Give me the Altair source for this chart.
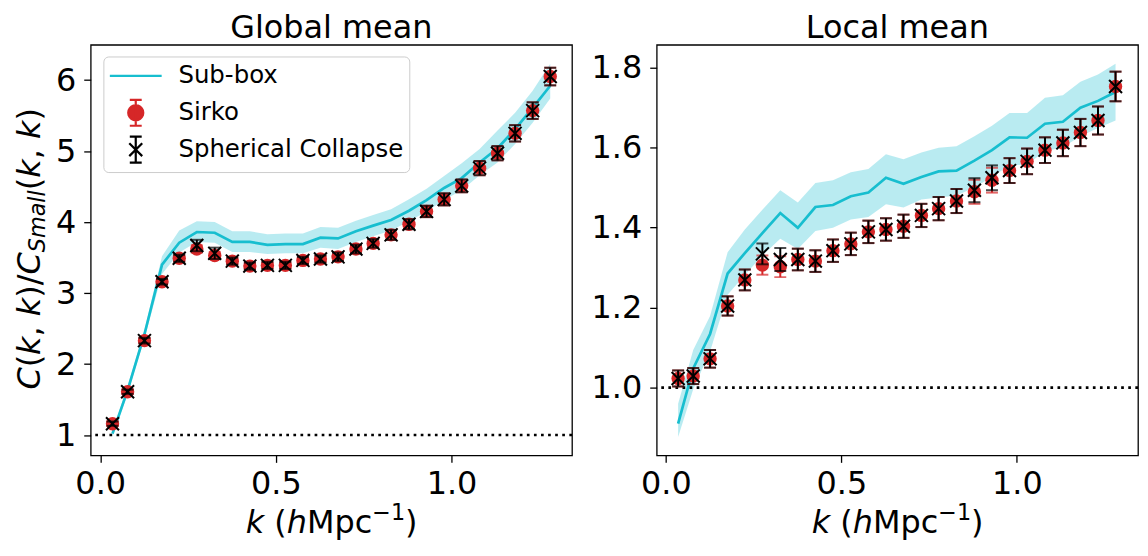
import math
import altair as alt
import pandas as pd

# ---------------- data ----------------
K = [0.035, 0.078, 0.126, 0.176, 0.225, 0.275, 0.326, 0.376, 0.426, 0.476, 0.527, 0.577, 0.627,
     0.677, 0.728, 0.777, 0.828, 0.879, 0.929, 0.979, 1.029, 1.080, 1.131, 1.181, 1.231, 1.281]

# Global mean panel
G_SIRKO = [1.16, 1.61, 2.33, 3.16, 3.49, 3.62, 3.53, 3.45, 3.38, 3.39, 3.39, 3.46, 3.48,
           3.51, 3.62, 3.70, 3.82, 3.97, 4.15, 4.32, 4.51, 4.76, 4.97, 5.25, 5.57, 6.05]
G_SIRKO_ERR = [0.03, 0.03, 0.04, 0.04, 0.05, 0.05, 0.05, 0.05, 0.05, 0.05, 0.05, 0.05, 0.05,
               0.06, 0.06, 0.06, 0.07, 0.07, 0.08, 0.085, 0.09, 0.10, 0.10, 0.115, 0.117, 0.124]
G_SC = [1.16, 1.61, 2.33, 3.16, 3.49, 3.67, 3.56, 3.45, 3.38, 3.39, 3.39, 3.46, 3.48,
        3.51, 3.62, 3.70, 3.82, 3.97, 4.15, 4.32, 4.51, 4.76, 4.97, 5.25, 5.57, 6.05]
G_SC_ERR = [0.03, 0.03, 0.04, 0.04, 0.05, 0.08, 0.08, 0.05, 0.05, 0.05, 0.05, 0.05, 0.05,
            0.06, 0.06, 0.06, 0.07, 0.07, 0.08, 0.085, 0.09, 0.10, 0.10, 0.115, 0.117, 0.124]
G_SUB = [1.02, 1.63, 2.42, 3.40, 3.71, 3.86, 3.85, 3.72, 3.72, 3.68, 3.69, 3.69, 3.78,
         3.77, 3.87, 3.95, 4.03, 4.16, 4.31, 4.48, 4.62, 4.84, 5.04, 5.31, 5.61, 5.92]
G_SUB_LO = [0.976, 1.58, 2.36, 3.27, 3.57, 3.72, 3.71, 3.58, 3.58, 3.55, 3.56, 3.56, 3.64,
            3.62, 3.72, 3.80, 3.88, 4.01, 4.15, 4.31, 4.45, 4.66, 4.84, 5.10, 5.40, 5.74]
G_SUB_HI = [1.06, 1.69, 2.48, 3.52, 3.88, 4.01, 4.00, 3.87, 3.87, 3.83, 3.84, 3.84, 3.93,
            3.92, 4.02, 4.10, 4.18, 4.32, 4.47, 4.65, 4.83, 5.03, 5.29, 5.54, 5.85, 6.23]

# Local mean panel
L_SIRKO = [1.023, 1.029, 1.072, 1.204, 1.269, 1.306, 1.302, 1.320, 1.316, 1.342, 1.359, 1.389, 1.395,
           1.403, 1.430, 1.447, 1.466, 1.489, 1.518, 1.542, 1.565, 1.593, 1.611, 1.637, 1.667, 1.752]
L_SIRKO_ERR = [0.020, 0.020, 0.022, 0.024, 0.026, 0.024, 0.026, 0.027, 0.027, 0.028, 0.028, 0.028, 0.028,
               0.029, 0.029, 0.029, 0.030, 0.030, 0.031, 0.031, 0.032, 0.032, 0.033, 0.034, 0.035, 0.037]
L_SC = [1.023, 1.029, 1.072, 1.204, 1.269, 1.334, 1.320, 1.320, 1.316, 1.342, 1.359, 1.389, 1.395,
        1.403, 1.430, 1.447, 1.466, 1.493, 1.524, 1.542, 1.565, 1.593, 1.611, 1.637, 1.667, 1.752]
L_SC_ERR = [0.020, 0.020, 0.022, 0.024, 0.026, 0.026, 0.029, 0.027, 0.027, 0.028, 0.028, 0.028, 0.028,
            0.029, 0.029, 0.029, 0.030, 0.030, 0.031, 0.031, 0.032, 0.032, 0.033, 0.034, 0.035, 0.037]
L_SUB = [0.910, 1.048, 1.134, 1.285, 1.336, 1.386, 1.436, 1.399, 1.451, 1.456, 1.478, 1.487, 1.524,
         1.509, 1.526, 1.540, 1.542, 1.567, 1.593, 1.625, 1.624, 1.659, 1.664, 1.699, 1.716, 1.738]
L_SUB_LO = [0.877, 0.996, 1.090, 1.232, 1.281, 1.330, 1.372, 1.346, 1.391, 1.399, 1.420, 1.426, 1.458,
            1.450, 1.470, 1.475, 1.480, 1.500, 1.526, 1.555, 1.557, 1.590, 1.600, 1.628, 1.648, 1.667]
L_SUB_HI = [0.960, 1.094, 1.179, 1.338, 1.395, 1.444, 1.493, 1.462, 1.511, 1.518, 1.538, 1.546, 1.583,
            1.570, 1.587, 1.599, 1.603, 1.628, 1.654, 1.686, 1.686, 1.724, 1.730, 1.764, 1.782, 1.809]

SERIES = ["Sub-box", "Sirko", "Spherical Collapse"]
X_TICKS = [0.0, 0.5, 1.0]
G_Y_TICKS = [1, 2, 3, 4, 5, 6]
L_Y_TICKS = [1.0, 1.2, 1.4, 1.6, 1.8]

# ---------------- style ----------------
CYAN = "#17becf"
RED = "#d62728"
FONT = "DejaVu Sans"
W, H = 483, 412
FS = 32

# DejaVu Sans advance widths (em) used to lay out the math-style axis titles
ADV = {"C": .698, "(": .390, ")": .390, "k": .579, ",": .318, " ": .318, "/": .337,
       "S": .635, "m": .974, "a": .613, "l": .278, "h": .634, "M": .863, "p": .635,
       "c": .550, "\u2212": .838, "1": .636}


def adv(s, size):
    return sum(ADV[ch] for ch in s) * size


def title_layers(segments, start, fixed, vertical):
    groups = {}
    cur = start
    for text, style, size, shift in segments:
        lead = len(text) - len(text.lstrip(" "))
        shown = text.strip(" ")
        p = cur - adv(" " * lead, size) if vertical else cur + adv(" " * lead, size)
        groups.setdefault((style, size, shift), []).append({"t": shown, "pos": p})
        cur = cur - adv(text, size) if vertical else cur + adv(text, size)
    layers = []
    for (style, size, shift), rows in groups.items():
        mk = alt.Chart(pd.DataFrame(rows)).mark_text(
            font=FONT, fontSize=size, fontStyle=style, color="black",
            align="left", baseline="alphabetic", angle=270 if vertical else 0)
        if vertical:
            enc = dict(x=alt.value(fixed + shift), y=alt.Y("pos:Q", scale=None, axis=None))
        else:
            enc = dict(y=alt.value(fixed + shift), x=alt.X("pos:Q", scale=None, axis=None))
        layers.append(mk.encode(text="t:N", **enc))
    return layers


Y_TITLE = [("C", "italic", FS, 0), ("(", "normal", FS, 0), ("k", "italic", FS, 0),
           (", ", "normal", FS, 0), ("k", "italic", FS, 0), (")/", "normal", FS, 0),
           ("C", "italic", FS, 0), ("Small", "italic", 22.4, 5), ("(", "normal", FS, 0),
           ("k", "italic", FS, 0), (", ", "normal", FS, 0), ("k", "italic", FS, 0),
           (")", "normal", FS, 0)]
X_TITLE = [("k", "italic", FS, 0), (" (", "normal", FS, 0), ("h", "italic", FS, 0),
           ("Mpc", "normal", FS, 0), ("\u22121", "normal", 22.4, -13), (")", "normal", FS, 0)]


def polygon_circle(r, n=20):
    pts = [(r * math.cos(2 * math.pi * i / n), r * math.sin(2 * math.pi * i / n)) for i in range(n)]
    return "M" + "L".join(f"{x:.3f},{y:.3f}" for x, y in pts) + "Z"


# every legend symbol gets the same bounding box (zero-length corner segments)
FRAME = "M-2,-1L-2,-1M2,1L2,1"
LINE_PATH = FRAME + "M-2,0L2,0"
BARS = "M0,-1L0,1M-0.46,-1L0.46,-1M-0.46,1L0.46,1"
SIRKO_PATH = FRAME + BARS + polygon_circle(0.58)
SC_PATH = FRAME + BARS + "M-0.5,-0.5L0.5,0.5M-0.5,0.5L0.5,-0.5"


def panel(title, sir, sir_err, sc, sc_err, sub, lo, hi, xdom, ydom, yticks, yfmt, with_legend, with_ytitle):
    df = pd.DataFrame({"k": K, "sir": sir, "sc": sc, "sub": sub, "lo": lo, "hi": hi})
    df["sir_lo"] = [v - e for v, e in zip(sir, sir_err)]
    df["sir_hi"] = [v + e for v, e in zip(sir, sir_err)]
    df["sc_lo"] = [v - e for v, e in zip(sc, sc_err)]
    df["sc_hi"] = [v + e for v, e in zip(sc, sc_err)]

    xs = alt.Scale(domain=xdom, nice=False, zero=False)
    ys = alt.Scale(domain=ydom, nice=False, zero=False)
    xax = alt.Axis(values=X_TICKS, format=".1f", title=None)
    yax = alt.Axis(values=yticks, format=yfmt, title=None)

    def X():
        return alt.X("k:Q", scale=xs, axis=xax)

    def Y(f):
        return alt.Y(f + ":Q", scale=ys, axis=yax)

    base = alt.Chart(df)
    band = base.mark_area(color=CYAN, opacity=0.3).encode(x=X(), y=Y("lo"), y2="hi:Q")
    line = base.mark_line(color=CYAN, strokeWidth=2.7).encode(x=X(), y=Y("sub"))
    one = alt.Chart(pd.DataFrame({"one": [1.0]})).mark_rule(
        color="black", strokeWidth=2.6, strokeDash=[2.7, 4.4]).encode(y=Y("one"))

    def errs(lo_f, hi_f, val_f, color, pt):
        bar = base.mark_rule(color=color, strokeWidth=2).encode(x=X(), y=Y(lo_f), y2=hi_f + ":Q")
        c1 = base.mark_tick(color=color, thickness=2, size=12, orient="horizontal").encode(x=X(), y=Y(lo_f))
        c2 = base.mark_tick(color=color, thickness=2, size=12, orient="horizontal").encode(x=X(), y=Y(hi_f))
        return [bar, c1, c2, pt.encode(x=X(), y=Y(val_f))]

    sir_layers = errs("sir_lo", "sir_hi", "sir", RED,
                      base.mark_circle(color=RED, size=180, opacity=1))
    sc_layers = errs("sc_lo", "sc_hi", "sc", "black",
                     base.mark_point(shape="M-1,-1L1,1M-1,1L1,-1", size=169, color="black",
                                     strokeWidth=2, filled=False, opacity=1))

    layers = [band, line, one] + sir_layers + sc_layers
    layers += title_layers(X_TITLE, (W - 172) / 2, H + 78, vertical=False)
    if with_ytitle:
        layers += title_layers(Y_TITLE, H / 2 + 140, -50.5, vertical=True)

    if with_legend:
        leg = alt.Legend(title=None, orient="none", legendX=12.7, legendY=11.7,
                         labelFont=FONT, labelFontSize=24.5, labelColor="black", labelLimit=400,
                         labelExpr="datum.label + '\u00a0'",
                         symbolSize=676, symbolStrokeWidth=2.2, symbolOffset=13,
                         labelOffset=28.3, rowPadding=2, padding=5, symbolOpacity=1,
                         fillColor="rgba(255,255,255,0.8)", strokeColor="#cccccc",
                         cornerRadius=5)
        ldf = pd.DataFrame({"series": SERIES, "k": [0.5] * 3, "v": [3.0] * 3})
        legl = alt.Chart(ldf).mark_point(opacity=0, filled=False).encode(
            x=X(), y=Y("v"),
            shape=alt.Shape("series:N", scale=alt.Scale(domain=SERIES, range=[LINE_PATH, SIRKO_PATH, SC_PATH]), legend=leg),
            fill=alt.Fill("series:N", scale=alt.Scale(domain=SERIES, range=["transparent", RED, "black"]), legend=leg),
            stroke=alt.Stroke("series:N", scale=alt.Scale(domain=SERIES, range=[CYAN, RED, "black"]), legend=leg),
        )
        layers.append(legl)

    return alt.layer(*layers).properties(
        width=W, height=H,
        title=alt.TitleParams(title, font=FONT, fontSize=FS, fontWeight="normal", color="black",
                              anchor="middle", offset=0))


left = panel("Global mean", G_SIRKO, G_SIRKO_ERR, G_SC, G_SC_ERR, G_SUB, G_SUB_LO, G_SUB_HI,
             [-0.027, 1.343], [0.714, 6.497], G_Y_TICKS, "d", True, True)
right = panel("Local mean", L_SIRKO, L_SIRKO_ERR, L_SC, L_SC_ERR, L_SUB, L_SUB_LO, L_SUB_HI,
              [-0.026, 1.345], [0.831, 1.856], L_Y_TICKS, ".1f", False, False)

chart = alt.hconcat(left, right, spacing=16).resolve_scale(
    shape="independent", fill="independent", stroke="independent"
).resolve_legend(
    shape="independent", fill="independent", stroke="independent"
).properties(
    padding={"left": 5, "top": 2, "right": 0, "bottom": 0}
).configure_view(
    stroke="black", strokeWidth=1.3
).configure_axis(
    domain=False, grid=False, ticks=True, tickColor="black", tickWidth=1.3, tickSize=7,
    labelFont=FONT, labelFontSize=FS, labelColor="black", labelFlush=False, labelOverlap=False
).configure_axisX(labelPadding=6).configure_axisY(labelPadding=8)

chart.save("out.html", embed_options={"renderer": "svg", "actions": False})
